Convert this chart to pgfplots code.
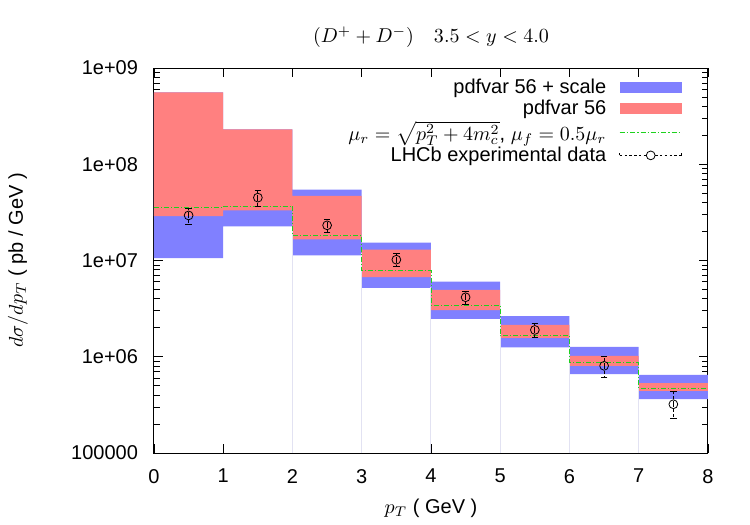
\documentclass[border=0pt]{standalone}
\usepackage{fontspec}
\setmainfont{Liberation Sans}
\usepackage{pgfplots}
\usepackage{pgfplotstable}
\pgfplotsset{compat=1.18}
\usepgfplotslibrary{fillbetween}

\definecolor{bandblue}{RGB}{128,128,255}
\definecolor{bandred}{RGB}{255,128,128}
\definecolor{cvgreen}{RGB}{30,210,30}
\definecolor{edgegray}{RGB}{226,226,242}

% scale + pdf uncertainty band (bin lower edge, low, high)
\pgfplotstableread{
x lo hi
0 1.06e7 5.58e8
1 2.26e7 2.30e8
2 1.13e7 5.45e7
3 5.20e6 1.53e7
4 2.47e6 6.04e6
5 1.25e6 2.65e6
6 6.59e5 1.27e6
7 3.62e5 6.50e5
8 3.62e5 6.50e5
}\scaleband

% pdf-only uncertainty band
\pgfplotstableread{
x lo hi
0 2.89e7 5.58e8
1 3.32e7 2.30e8
2 1.66e7 4.68e7
3 6.70e6 1.30e7
4 3.06e6 4.95e6
5 1.57e6 2.15e6
6 8.05e5 1.02e6
7 4.43e5 5.32e5
8 4.43e5 5.32e5
}\pdfband

% central scale choice
\pgfplotstableread{
x y
0 3.57e7
1 3.68e7
2 1.82e7
3 7.87e6
4 3.45e6
5 1.66e6
6 8.73e5
7 4.72e5
8 4.72e5
}\central

% LHCb measurement (bin centre, value, +err, -err)
\pgfplotstableread{
x y ep em
0.5 2.94e7 0.56e7 0.57e7
1.5 4.50e7 0.86e7 0.82e7
2.5 2.32e7 0.35e7 0.38e7
3.5 1.02e7 0.17e7 0.154e7
4.5 4.15e6 0.64e6 0.67e6
5.5 1.90e6 0.32e6 0.31e6
6.5 8.05e5 2.15e5 1.97e5
7.5 3.21e5 1.14e5 0.91e5
}\lhcb

\begin{document}
\begin{tikzpicture}
\begin{axis}[
  at={(0pt,0pt)}, anchor=south west,
  scale only axis, width=277pt, height=192.5pt,
  xmin=0, xmax=8, ymode=log, ymin=1e5, ymax=1e9,
  xtick={0,1,...,8}, xticklabels={0,1,2,3,4,5,6,7,8},
  ytick={1e5,1e6,1e7,1e8,1e9},
  yticklabels={100000,1e+06,1e+07,1e+08,1e+09},
  tick align=inside, tick pos=both,
  axis line style={line width=0.5pt},
  every tick/.style={black, line width=0.4pt},
  xticklabel style={yshift=-4.5pt},
  yticklabel style={xshift=-4.5pt},
  title={$(D^+ + D^-)\quad 3.5<y<4.0$},
  title style={at={(axis description cs:0.5,1)}, yshift=9.5pt, anchor=center},
  xlabel={$p_T$ ( GeV )},
  xlabel style={at={(axis description cs:0.5,-0.1429)}, anchor=center},
  ylabel={$d\sigma/dp_T$ ( pb / GeV )},
  ylabel style={at={(axis description cs:-0.2455,0.5)}, anchor=center, rotate=0},
  legend plot pos=right,
  legend cell align=right,
  legend style={draw=none, fill=none, at={(axis description cs:0.958,0.982)},
    anchor=north east, row sep=0pt, column sep=5.5pt, inner sep=1pt,
    nodes={inner sep=0.9pt}},
]
% faint bin boundaries below the bands
\addplot[edgegray, line width=0.5pt, forget plot] coordinates {(2,1e5) (2,2.3e7)};
\addplot[edgegray, line width=0.5pt, forget plot] coordinates {(3,1e5) (3,1.2e7)};
\addplot[edgegray, line width=0.5pt, forget plot] coordinates {(4,1e5) (4,5.3e6)};
\addplot[edgegray, line width=0.5pt, forget plot] coordinates {(5,1e5) (5,2.5e6)};
\addplot[edgegray, line width=0.5pt, forget plot] coordinates {(6,1e5) (6,1.3e6)};
\addplot[edgegray, line width=0.5pt, forget plot] coordinates {(7,1e5) (7,6.6e5)};

\addplot[const plot, draw=none, name path=sHi, forget plot] table[x=x,y=hi]{\scaleband};
\addplot[const plot, draw=none, name path=sLo, forget plot] table[x=x,y=lo]{\scaleband};
\addplot[fill=bandblue, draw=none,
  legend image code/.code={\fill[bandblue] (0pt,-2.75pt) rectangle (31pt,2.75pt);}]
  fill between[of=sHi and sLo];
\addlegendentry{pdfvar 56 + scale}

\addplot[const plot, draw=none, name path=pHi, forget plot] table[x=x,y=hi]{\pdfband};
\addplot[const plot, draw=none, name path=pLo, forget plot] table[x=x,y=lo]{\pdfband};
\addplot[fill=bandred, draw=none,
  legend image code/.code={\fill[bandred] (0pt,-2.75pt) rectangle (31pt,2.75pt);}]
  fill between[of=pHi and pLo];
\addlegendentry{pdfvar 56}

\addplot[const plot, cvgreen, line width=0.45pt,
  dash pattern=on 2.5pt off 1pt on 0.5pt off 1pt,
  legend image code/.code={\draw[cvgreen, line width=0.6pt,
    dash pattern=on 2.5pt off 1pt on 0.7pt off 1pt] (0pt,0pt)--(31pt,0pt);}]
  table[x=x,y=y]{\central};
\addlegendentry{$\mu_r=\sqrt{p_T^2+4m_c^2}$, $\mu_f=0.5\mu_r$}

\addplot[black, only marks, mark=o, mark size=2.2pt, mark options={line width=0.4pt},
  legend image code/.code={
    \draw[black, line width=0.4pt, dash pattern=on 1.2pt off 1.2pt] (0pt,0pt)--(13.3pt,0pt);
    \draw[black, line width=0.4pt, dash pattern=on 1.2pt off 1.2pt] (17.7pt,0pt)--(31pt,0pt);
    \draw[black, line width=0.4pt] (15.5pt,0pt) circle (2.2pt);
    \draw[black, line width=0.4pt] (0pt,0pt)--(0pt,1.2pt) (31pt,0pt)--(31pt,1.2pt);},
  error bars/.cd, y dir=both, y explicit,
  error bar style={line width=0.4pt, dash pattern=on 1.5pt off 1pt},
  error mark options={rotate=90, mark size=1.6pt, solid, line width=0.4pt}]
  table[x=x, y=y, y error plus=ep, y error minus=em]{\lhcb};
\addlegendentry{LHCb experimental data}
\end{axis}
\pgfresetboundingbox
\path[use as bounding box] (-77pt,-36pt) rectangle (298pt,226.5pt);
\end{tikzpicture}
\end{document}
